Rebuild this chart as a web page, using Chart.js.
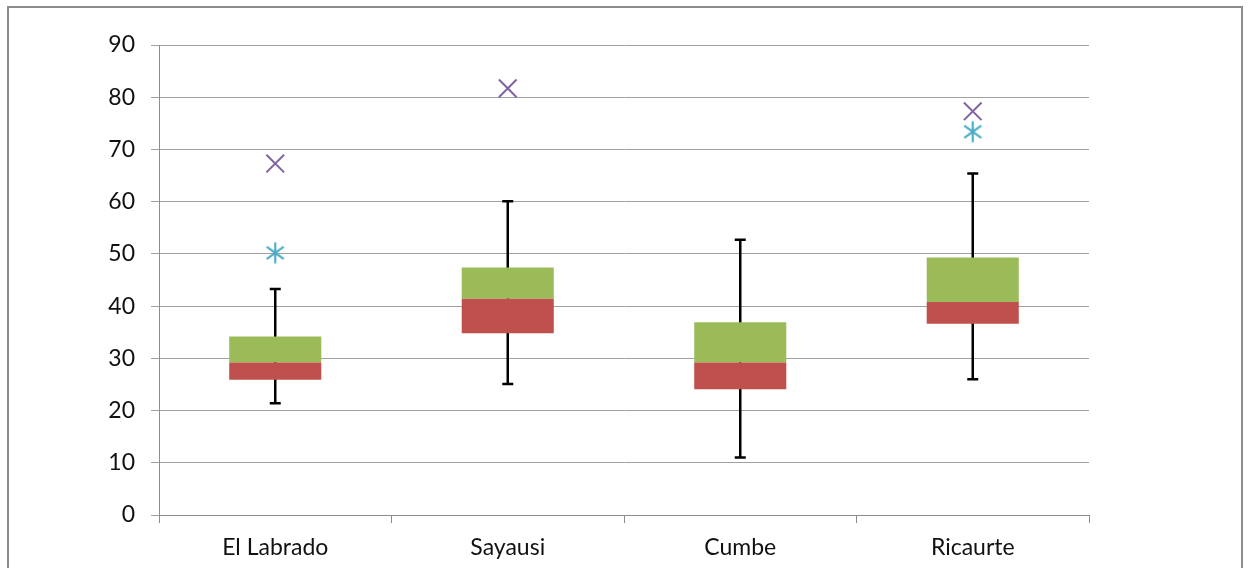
<!DOCTYPE html>
<html>
<head>
<meta charset="utf-8">
<script src="https://cdn.jsdelivr.net/npm/chart.js@4"></script>
<style>
html,body{margin:0;padding:0;background:#fff;}
#wrap{width:1249px;height:568px;position:relative;}
</style>
</head>
<body>
<div id="wrap"><canvas id="c" width="1249" height="568"></canvas></div>
<script>
const categories = ['El Labrado', 'Sayausi', 'Cumbe', 'Ricaurte'];
const whiskerMin = [21.4, 25.1, 11.0, 26.0];
const q1 = [25.9, 34.8, 24.1, 36.6];
const median = [29.2, 41.4, 29.2, 40.8];
const q3 = [34.2, 47.4, 36.9, 49.3];
const whiskerMax = [43.3, 60.1, 52.7, 65.4];
const outlierX = [67.3, 81.7, null, 77.3];
const outlierStar = [50.2, null, null, 73.4];
const yTicks = [0, 10, 20, 30, 40, 50, 60, 70, 80, 90];

const FONT = "Lato, 'Open Sans', 'Liberation Sans', sans-serif";

// asterisk point style (6 arms)
function makeAsterisk(color) {
  const s = 24, c = document.createElement('canvas');
  c.width = s; c.height = s;
  const g = c.getContext('2d');
  g.strokeStyle = color; g.lineWidth = 2.2; g.lineCap = 'butt';
  const m = s / 2, r = 10.5;
  g.beginPath();
  g.moveTo(m, m - r); g.lineTo(m, m + r);
  const dx = r * Math.cos(Math.PI / 5), dy = r * Math.sin(Math.PI / 5);
  g.moveTo(m - dx, m - dy); g.lineTo(m + dx, m + dy);
  g.moveTo(m - dx, m + dy); g.lineTo(m + dx, m - dy);
  g.stroke();
  return c;
}

const framePlugin = {
  id: 'frame',
  beforeDraw(chart) {
    const ctx = chart.ctx;
    ctx.save();
    ctx.fillStyle = '#fff';
    ctx.fillRect(0, 0, chart.width, chart.height);
    ctx.strokeStyle = '#8c8c8c';
    ctx.lineWidth = 2;
    ctx.strokeRect(8, 7, 1234, 600);
    ctx.restore();
  }
};

const whiskerPlugin = {
  id: 'whiskers',
  beforeDatasetsDraw(chart) {
    const ctx = chart.ctx;
    const xs = chart.scales.x, ys = chart.scales.y;
    ctx.save();
    ctx.strokeStyle = '#000';
    ctx.lineWidth = 2.5;
    ctx.lineCap = 'butt';
    for (let i = 0; i < categories.length; i++) {
      const x = xs.getPixelForValue(i);
      const yTop = ys.getPixelForValue(whiskerMax[i]);
      const yBot = ys.getPixelForValue(whiskerMin[i]);
      ctx.beginPath();
      ctx.moveTo(x, yTop); ctx.lineTo(x, yBot);
      ctx.moveTo(x - 5.5, yTop); ctx.lineTo(x + 5.5, yTop);
      ctx.moveTo(x - 5.5, yBot); ctx.lineTo(x + 5.5, yBot);
      ctx.stroke();
    }
    ctx.restore();
  }
};

const lowerBox = q1.map((v, i) => [v, median[i]]);
const upperBox = median.map((v, i) => [v, q3[i]]);

new Chart(document.getElementById('c'), {
  type: 'bar',
  data: {
    labels: categories,
    datasets: [
      {
        type: 'bar', data: lowerBox, backgroundColor: '#C0504D',
        borderWidth: 0, grouped: false, barPercentage: 0.396, categoryPercentage: 1, order: 3
      },
      {
        type: 'bar', data: upperBox, backgroundColor: '#9BBB59',
        borderWidth: 0, grouped: false, barPercentage: 0.396, categoryPercentage: 1, order: 3
      },
      {
        type: 'line', data: outlierStar, showLine: false,
        pointStyle: makeAsterisk('#4BACC6'), pointRadius: 10, order: 1
      },
      {
        type: 'line', data: outlierX, showLine: false,
        pointStyle: 'crossRot', pointRadius: 12.5, borderColor: '#8064A2',
        pointBorderColor: '#8064A2', pointBorderWidth: 2, order: 1
      }
    ]
  },
  options: {
    responsive: false,
    animation: false,
    events: [],
    layout: { padding: { left: 0, right: 160, top: 45, bottom: 0 } },
    plugins: { legend: { display: false }, tooltip: { enabled: false } },
    scales: {
      x: {
        offset: true,
        afterFit(s) { s.height = 53; },
        grid: { display: true, drawOnChartArea: false, drawTicks: true, tickLength: 8, offset: true, color: '#8c8c8c', lineWidth: 1 },
        border: { display: true, color: '#8c8c8c', width: 1 },
        ticks: { color: '#111', font: { family: FONT, size: 23 }, padding: 11 }
      },
      y: {
        min: 0, max: 90,
        afterFit(s) { s.width = 159; },
        afterBuildTicks(s) { s.ticks = yTicks.map(v => ({ value: v })); },
        grid: { color: '#a0a0a0', lineWidth: 1, tickLength: 8, drawTicks: true },
        border: { display: true, color: '#8c8c8c', width: 1 },
        ticks: { color: '#111', font: { family: FONT, size: 23 }, padding: 16 }
      }
    }
  },
  plugins: [framePlugin, whiskerPlugin]
});
</script>
</body>
</html>
